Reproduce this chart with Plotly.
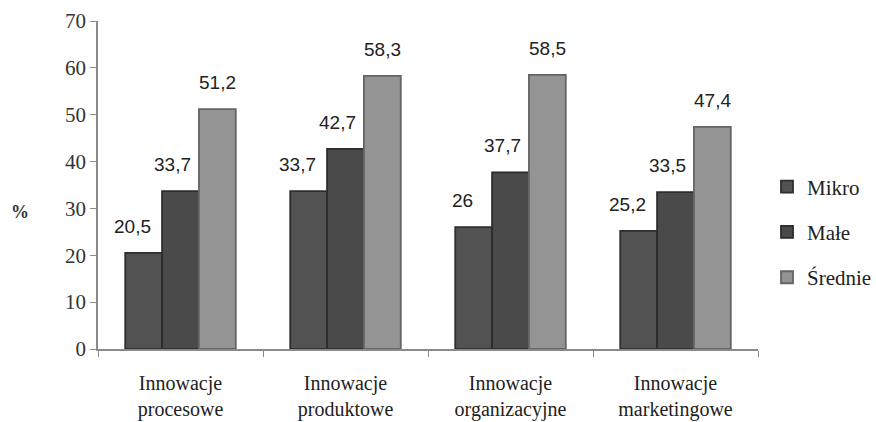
import plotly.graph_objects as go

categories = ["Innowacje<br>procesowe", "Innowacje<br>produktowe", "Innowacje<br>organizacyjne", "Innowacje<br>marketingowe"]
series_names = ["Mikro", "Małe", "Średnie"]
mikro = [20.5, 33.7, 26, 25.2]
male = [33.7, 42.7, 37.7, 33.5]
srednie = [51.2, 58.3, 58.5, 47.4]
y_ticks = [0, 10, 20, 30, 40, 50, 60, 70]

SERIF = "Liberation Serif"
SANS = "Liberation Sans"

colors = ["#525252", "#4a4a4a", "#949494"]
edge = ["#2e2e2e", "#2c2c2c", "#646464"]
values = [mikro, male, srednie]

fig = go.Figure()
for i, (name, vals) in enumerate(zip(series_names, values)):
    fig.add_trace(go.Bar(
        x=categories, y=vals, name=name,
        marker=dict(color=colors[i], line=dict(color=edge[i], width=1.8)),
        legendgroup=name,
    ))

def fmt(v):
    return ("%g" % v).replace(".", ",")

offsets = [-48, -8, 37]
for i, vals in enumerate(values):
    for c, v in zip(categories, vals):
        fig.add_annotation(
            x=c, y=v, xref="x", yref="y", text=fmt(v), showarrow=False,
            xshift=offsets[i], yanchor="bottom", yshift=14,
            font=dict(family=SANS, size=19, color="#222222"),
        )

fig.add_annotation(
    xref="paper", yref="paper", text="<b>%</b>", showarrow=False,
    x=(20 - 98) / 660, y=(349 - 212) / 328, xanchor="center", yanchor="middle",
    font=dict(family=SERIF, size=18, color="#333333", weight="bold"),
)

fig.update_layout(
    width=876, height=422,
    margin=dict(l=98, r=118, t=21, b=73),
    paper_bgcolor="white", plot_bgcolor="white",
    barmode="group", bargap=0.33, bargroupgap=0,
    font=dict(family=SERIF, size=21, color="#222222"),
    showlegend=True,
    legend=dict(
        xref="container", yref="container",
        x=767 / 876, y=1 - 232 / 422, xanchor="left", yanchor="middle",
        font=dict(family=SERIF, size=21, color="#222222"),
        tracegroupgap=15, itemwidth=30,
        bgcolor="rgba(0,0,0,0)",
    ),
    xaxis=dict(
        automargin=False,
        showline=True, linecolor="#8a8a8a", linewidth=1.5,
        ticks="outside", tickson="boundaries", ticklen=6, tickcolor="#8a8a8a",
        showgrid=False, ticklabelstandoff=15,
        tickfont=dict(family=SERIF, size=20, color="#222222"),
    ),
    yaxis=dict(
        automargin=False,
        range=[0, 70], tickvals=y_ticks, showline=True, linecolor="#8a8a8a", linewidth=1.5,
        ticks="outside", ticklen=6, tickcolor="#8a8a8a", showgrid=False, zeroline=False,
        tickfont=dict(family=SERIF, size=21, color="#333333"),
    ),
)

fig.write_html("out.html")
